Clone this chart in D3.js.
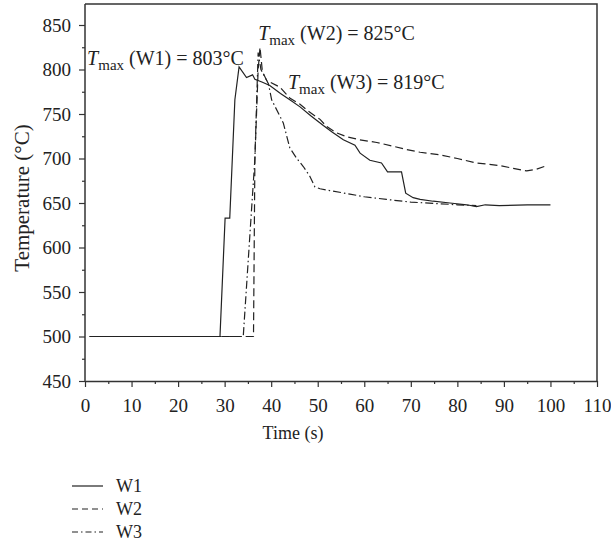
<!DOCTYPE html>
<html>
<head>
<meta charset="utf-8">
<script src="https://cdn.jsdelivr.net/npm/d3@7"></script>
<style>
  body { margin: 0; background: #fff; }
  text { font-family: "Liberation Serif", "Times New Roman", serif; fill: #222; }
</style>
</head>
<body>
<svg id="chart" width="611" height="541"></svg>
<script>
// --- data ---
const seriesNames = ['W1', 'W2', 'W3'];

const w1Time = [1, 29, 30.1, 31.1, 32.2, 33.1, 34.7, 36.0, 36.5, 38, 39.7, 42, 44, 46.2, 48.5, 51.2, 53, 55.5, 58, 59.1, 61.2, 63.7, 65, 68, 68.9, 70.5, 72, 74.8, 78.4, 82, 84.1, 86, 89, 95, 100];
const w1Temp = [500, 500, 633, 633, 766, 803, 791, 794, 789, 786, 782, 773, 766, 758, 748, 737, 730, 721, 715, 706, 698, 695, 685, 685, 661, 656, 654, 652, 650, 648, 646, 648, 647, 648, 648];

const w2Time = [1, 36.2, 36.5, 37.2, 37.6, 38.1, 39, 41.9, 44, 46.2, 48, 50.5, 51.9, 54, 56.2, 59, 62.7, 66, 69.1, 72, 76.3, 80, 84.1, 86, 89.1, 92, 94.9, 97, 99.2];
const w2Temp = [500, 500, 700, 800, 825, 798, 788, 780, 768, 761, 753, 744, 736, 729, 724.5, 721, 718, 714, 710, 707, 704, 700, 695, 694, 692, 689, 686, 688, 692];

const w3Time = [1, 34, 36.5, 37.2, 37.8, 39.4, 40.1, 42.6, 44, 45.5, 46.9, 48.3, 49.4, 50.5, 52.6, 56.9, 60, 64.8, 70, 74.8, 80, 84.1];
const w3Temp = [500, 500, 700, 819, 800, 784, 766, 740, 712, 700, 691, 680, 668, 666, 664, 660, 657, 654, 651, 649.6, 648, 647];

const xTicks = [0, 10, 20, 30, 40, 50, 60, 70, 80, 90, 100, 110];
const yTicks = [450, 500, 550, 600, 650, 700, 750, 800, 850];

// peak annotations (anchored in data units)
const peakValues = [803, 825, 819];
const peakAnchorT = [0.45, 37.2, 43.6];
const peakAnchorY = [805, 833, 778];

// --- layout ---
const svg = d3.select('#chart');
const plotLeft = 85, plotRight = 597, plotTop = 4, plotBottom = 381;

const x = d3.scaleLinear().domain([0, 110]).range([plotLeft, plotRight]);
const y = d3.scaleLinear().domain([450, 850]).range([plotBottom, 25]);

const ink = '#222';
const dashes = [null, '8,4', '8,3,1.5,3'];

// frame (top and right)
svg.append('path')
  .attr('d', `M${plotLeft},${plotTop}H${plotRight}V${plotBottom}`)
  .attr('fill', 'none')
  .attr('stroke', '#333')
  .attr('stroke-width', 1.5);

// x axis with major + minor ticks
svg.append('g')
  .attr('transform', `translate(0,${plotBottom})`)
  .call(d3.axisBottom(x).tickValues(xTicks).tickSize(6).tickSizeOuter(0).tickPadding(12));
svg.append('g')
  .attr('transform', `translate(0,${plotBottom})`)
  .call(d3.axisBottom(x).tickValues(d3.range(5, 110, 10)).tickSize(3).tickFormat('').tickSizeOuter(0))
  .select('.domain').remove();

// y axis with major + minor ticks
const yAxis = svg.append('g')
  .attr('transform', `translate(${plotLeft},0)`)
  .call(d3.axisLeft(y).tickValues(yTicks).tickSize(6).tickSizeOuter(0).tickPadding(8));
svg.append('g')
  .attr('transform', `translate(${plotLeft},0)`)
  .call(d3.axisLeft(y).tickValues(d3.range(475, 875, 50)).tickSize(3).tickFormat('').tickSizeOuter(0))
  .select('.domain').remove();

svg.selectAll('.domain').attr('stroke', '#333').attr('stroke-width', 1.5);
svg.selectAll('.tick line').attr('stroke', '#333').attr('stroke-width', 1.2);
svg.selectAll('.tick text')
  .style('font-family', '"Liberation Serif", serif')
  .style('font-size', '19px')
  .attr('fill', '#222');

// extend domain so the y axis meets the top frame
yAxis.select('.domain').attr('d', `M0,${plotTop}V${plotBottom}`);

// axis titles
svg.append('text')
  .attr('x', 293)
  .attr('y', 439)
  .attr('text-anchor', 'middle')
  .style('font-size', '18px')
  .text('Time (s)');

svg.append('text')
  .attr('transform', `translate(29,198) rotate(-90)`)
  .attr('text-anchor', 'middle')
  .style('font-size', '21px')
  .text('Temperature (°C)');

// series lines
const series = [
  { t: w1Time, v: w1Temp },
  { t: w2Time, v: w2Temp },
  { t: w3Time, v: w3Temp }
];

const line = d3.line()
  .x(d => x(d[0]))
  .y(d => y(d[1]));

series.forEach((s, i) => {
  const pts = s.t.map((t, k) => [t, s.v[k]]);
  svg.append('path')
    .datum(pts)
    .attr('d', line)
    .attr('fill', 'none')
    .attr('stroke', ink)
    .attr('stroke-width', 1.2)
    .attr('stroke-dasharray', dashes[i]);
});

// peak annotations
seriesNames.forEach((name, i) => {
  const txt = svg.append('text')
    .attr('x', x(peakAnchorT[i]))
    .attr('y', y(peakAnchorY[i]))
    .style('font-size', '20px');
  txt.append('tspan').style('font-style', 'italic').text('T');
  txt.append('tspan').attr('dy', 5).style('font-size', '15px').text('max');
  txt.append('tspan').attr('dy', -5).text(` (${name}) = ${peakValues[i]}°C`);
});

// legend
const legend = svg.append('g').attr('transform', 'translate(72,486)');
seriesNames.forEach((name, i) => {
  const g = legend.append('g').attr('transform', `translate(0,${i * 23})`);
  g.append('line')
    .attr('x1', 0).attr('x2', 31)
    .attr('stroke', ink)
    .attr('stroke-width', 1.2)
    .attr('stroke-dasharray', i === 0 ? null : (i === 1 ? '6,4' : '6,3,1.5,3'));
  g.append('text')
    .attr('x', 44)
    .attr('dy', '0.35em')
    .style('font-size', '18px')
    .text(name);
});
</script>
</body>
</html>
